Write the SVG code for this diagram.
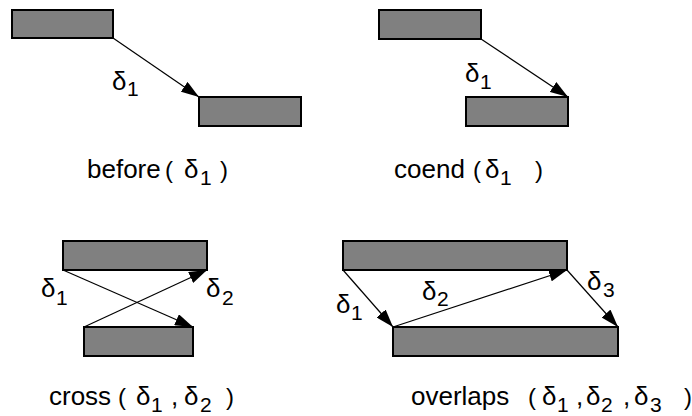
<svg xmlns="http://www.w3.org/2000/svg" width="692" height="416" viewBox="0 0 692 416">
<style>
.bar{fill:#808080;stroke:#000;stroke-width:2}
.con{stroke:#000;stroke-width:1.2;fill:none;marker-end:url(#ah)}
text{font-family:"Liberation Sans",Arial,sans-serif;fill:#000;font-size:26px}
.sub{font-size:21px}
.par{font-size:24px}
</style>
<defs>
<marker id="ah" markerUnits="userSpaceOnUse" markerWidth="19" markerHeight="12" refX="18" refY="6" orient="auto">
<path d="M0,0 L18,6 L0,12 z" fill="#000"/>
</marker>
</defs>
<rect width="692" height="416" fill="#fff"/>
<g id="before-a"><rect class="bar" x="12" y="10" width="101" height="28"/></g>
<g id="before-b"><rect class="bar" x="199" y="97" width="102" height="29"/></g>
<g id="coend-a"><rect class="bar" x="379" y="10" width="102" height="29"/></g>
<g id="coend-b"><rect class="bar" x="466" y="97" width="102" height="29"/></g>
<g id="cross-a"><rect class="bar" x="63" y="241" width="144" height="29"/></g>
<g id="cross-b"><rect class="bar" x="84" y="327" width="109" height="29"/></g>
<g id="overlaps-a"><rect class="bar" x="343" y="241" width="224" height="29"/></g>
<g id="overlaps-b"><rect class="bar" x="393" y="327" width="225" height="29"/></g>
<g id="connectors">
<line class="con" x1="113" y1="38" x2="199" y2="97"/>
<line class="con" x1="481" y1="39" x2="568" y2="97"/>
<line class="con" x1="63" y1="270" x2="193" y2="327"/>
<line class="con" x1="84" y1="327" x2="207" y2="270"/>
<line class="con" x1="343" y1="270" x2="393" y2="327"/>
<line class="con" x1="393" y1="327" x2="567" y2="270"/>
<line class="con" x1="567" y1="270" x2="618" y2="327"/>
</g>
<g id="labels">
<text x="112" y="90">δ<tspan class="sub" x="127" y="96">1</tspan></text>
<text x="465" y="82">δ<tspan class="sub" x="480" y="89">1</tspan></text>
<text x="41" y="297">δ<tspan class="sub" x="56" y="305">1</tspan></text>
<text x="206" y="297">δ<tspan class="sub" x="222" y="305">2</tspan></text>
<text x="336" y="313">δ<tspan class="sub" x="351" y="320">1</tspan></text>
<text x="422" y="300">δ<tspan class="sub" x="437" y="306">2</tspan></text>
<text x="587" y="290">δ<tspan class="sub" x="603" y="297">3</tspan></text>
</g>
<g id="captions">
<text x="87" y="178">before<tspan class="par" x="165">(</tspan><tspan x="184">δ</tspan><tspan class="sub" x="200" y="185">1</tspan><tspan class="par" x="220" y="178">)</tspan></text>
<text x="394" y="178">coend<tspan class="par" x="473">(</tspan><tspan x="485">δ</tspan><tspan class="sub" x="500" y="185">1</tspan><tspan class="par" x="535" y="178">)</tspan></text>
<text x="49" y="405">cross<tspan class="par" x="118">(</tspan><tspan x="136">δ</tspan><tspan class="sub" x="151" y="412">1</tspan><tspan x="171" y="405">,</tspan><tspan x="184">δ</tspan><tspan class="sub" x="200" y="412">2</tspan><tspan class="par" x="226" y="405">)</tspan></text>
<text x="411" y="405">overlaps<tspan class="par" x="528">(</tspan><tspan x="542">δ</tspan><tspan class="sub" x="557" y="412">1</tspan><tspan x="576" y="405">,</tspan><tspan x="586">δ</tspan><tspan class="sub" x="601" y="412">2</tspan><tspan x="623" y="405">,</tspan><tspan x="634">δ</tspan><tspan class="sub" x="650" y="412">3</tspan><tspan class="par" x="684" y="405">)</tspan></text>
</g>
</svg>
